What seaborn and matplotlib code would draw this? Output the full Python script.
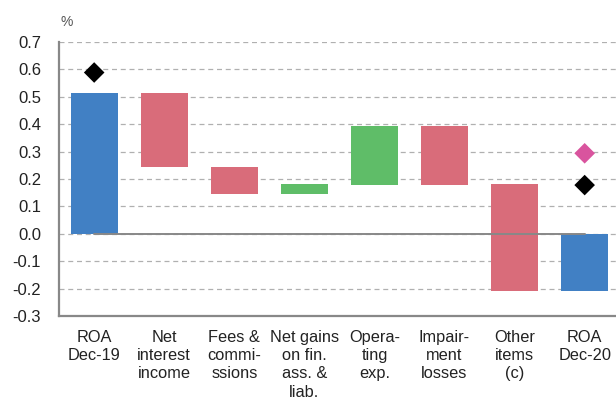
#---------------importing the libraries
import numpy as np
import pandas as pd
import matplotlib
matplotlib.use("Agg")
import matplotlib.pyplot as plt
import seaborn as sns

#---------------chart data
categories = ["ROA\nDec-19", "Net\ninterest\nincome", "Fees &\ncommi-\nssions",
              "Net gains\non fin.\nass. &\nliab.", "Opera-\nting\nexp.",
              "Impair-\nment\nlosses", "Other\nitems\n(c)", "ROA\nDec-20"]
bar_bottom = [0.0, 0.245, 0.146, 0.146, 0.180, 0.180, -0.210, 0.0]
bar_top = [0.515, 0.515, 0.245, 0.182, 0.394, 0.394, 0.182, -0.210]
bar_kind = ["total", "down", "down", "up", "up", "down", "down", "total"]

marker_cats = ["ROA\nDec-19", "ROA\nDec-20", "ROA\nDec-20"]
marker_vals = [0.589, 0.178, 0.294]
marker_kind = ["black", "black", "pink"]

colors = {"total": "#4180c4", "down": "#d96c7a", "up": "#5fbd68",
          "black": "#000000", "pink": "#d9549e"}

#---------------styling
sns.set_style("white")
plt.rcParams["font.family"] = ["Liberation Sans", "DejaVu Sans"]

fig = plt.figure(figsize=(6.16, 4.01), dpi=100)
ax = fig.add_axes([0.096, 0.212, 0.91, 0.683])

df = pd.DataFrame({"cat": categories,
                   "height": np.array(bar_top) - np.array(bar_bottom),
                   "bottom": bar_bottom})
sns.barplot(data=df, x="cat", y="height", bottom=df["bottom"].values,
            width=0.67, color="#4180c4", ax=ax, zorder=3)
for patch, kind in zip(ax.patches, bar_kind):
    patch.set_facecolor(colors[kind])
    patch.set_edgecolor("none")

#---------------diamond markers
mdf = pd.DataFrame({"cat": marker_cats, "val": marker_vals, "kind": marker_kind})
mdf["pos"] = [categories.index(c) for c in mdf["cat"]]
sns.scatterplot(data=mdf, x="pos", y="val", hue="kind",
                palette={"black": colors["black"], "pink": colors["pink"]},
                marker="D", s=110, linewidth=0, legend=False, ax=ax, zorder=4)

#---------------axes
ax.set_xlim(-0.5, len(categories) - 0.5)
ax.set_ylim(-0.3, 0.7)
yt = np.arange(-0.3, 0.71, 0.1)
ax.set_yticks(yt)
ax.set_yticklabels([f"{v:.1f}" for v in yt], fontsize=12, color="#222222")
ax.set_xticks(range(len(categories)))
ax.set_xticklabels(categories, fontsize=11.8, color="#222222", linespacing=1.27)
ax.set_xticks(np.arange(0.5, len(categories) - 1, 1), minor=True)
ax.tick_params(axis="x", which="major", length=0, pad=10)
ax.tick_params(axis="x", which="minor", length=5, direction="in", color="#888888", width=1)
ax.tick_params(axis="y", length=2, color="#888888", width=1, pad=11)
ax.set_xlabel("")
ax.set_ylabel("")

ax.yaxis.grid(True, linestyle=(0, (4, 3)), color="#b0b0b0", linewidth=0.9, zorder=0)
ax.set_axisbelow(True)
# zero line runs from the first to the last category centre
ax.plot([0, len(categories) - 1], [0, 0], color="#888888", linewidth=1.4, zorder=3.5)

for side in ["top", "right"]:
    ax.spines[side].set_visible(False)
for side in ["left", "bottom"]:
    ax.spines[side].set_color("#888888")
    ax.spines[side].set_linewidth(1.6)

fig.text(0.099, 0.935, "%", fontsize=10, color="#555555")

fig.savefig("out.png", dpi=100)
